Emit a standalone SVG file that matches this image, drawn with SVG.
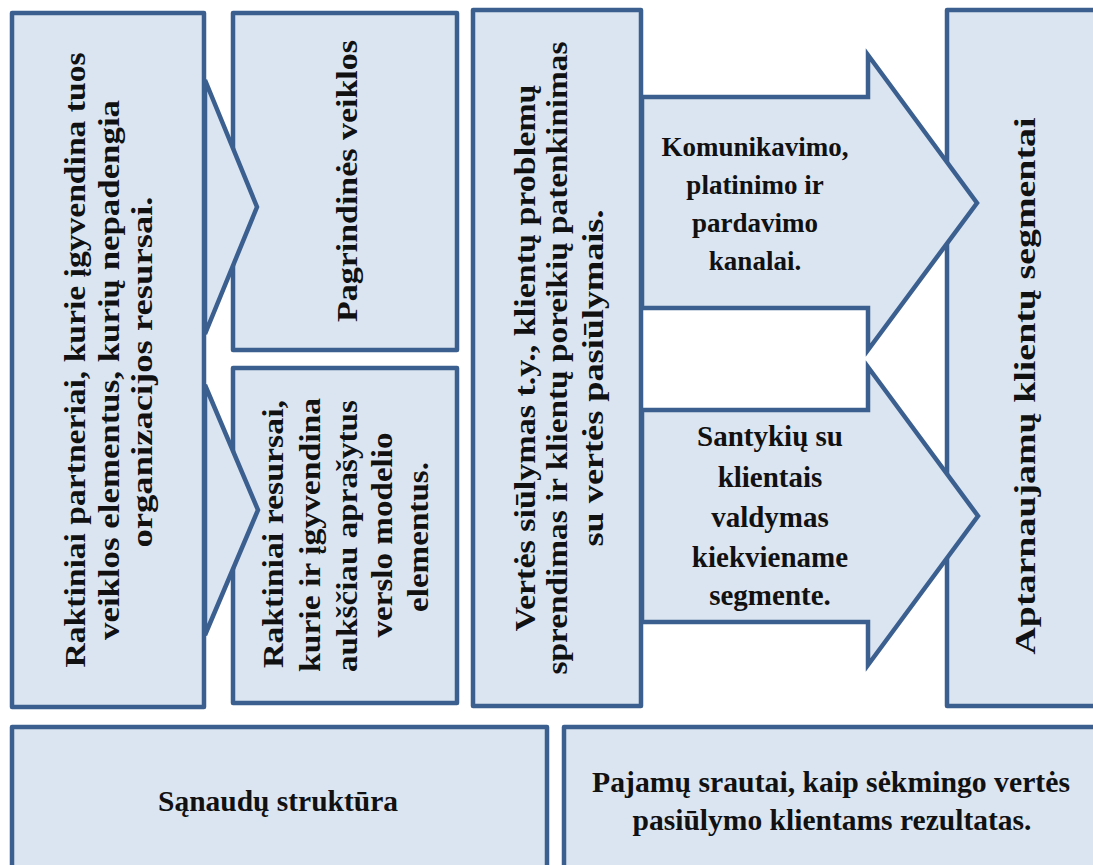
<svg xmlns="http://www.w3.org/2000/svg" width="1093" height="865" viewBox="0 0 1093 865">
  <style>
    .box { fill: #dbe5f1; stroke: #3b6090; stroke-width: 4.5; stroke-linejoin: round; }
    .shape { fill: #dbe5f1; stroke: #3b6090; stroke-width: 4.5; stroke-linejoin: miter; }
    text { font-family: "Liberation Serif", "Times New Roman", serif; font-weight: bold; fill: #111; }
    .v { font-size: 29px; text-anchor: middle; }
    .h { font-size: 27px; text-anchor: middle; }
    .h2 { font-size: 29px; text-anchor: middle; }
    .b { font-size: 30px; text-anchor: middle; }
  </style>

  <rect width="1093" height="865" fill="#ffffff"/>

  <!-- Key partners -->
  <g id="partners">
    <rect class="box" x="12" y="13" width="192" height="694"/>
    <text class="v" transform="translate(85,360) rotate(-90)" textLength="615" lengthAdjust="spacingAndGlyphs">Raktiniai partneriai,  kurie įgyvendina tuos</text>
    <text class="v" transform="translate(119,370) rotate(-90)" textLength="540" lengthAdjust="spacingAndGlyphs">veiklos elementus, kurių nepadengia</text>
    <text class="v" transform="translate(152,372) rotate(-90)" textLength="351" lengthAdjust="spacingAndGlyphs">organizacijos  resursai.</text>
  </g>

  <!-- Key activities -->
  <g id="activities">
    <rect class="box" x="233" y="13" width="224" height="337"/>
    <text class="v" transform="translate(357,181) rotate(-90)" textLength="282" lengthAdjust="spacingAndGlyphs">Pagrindinės veiklos</text>
  </g>

  <!-- Key resources -->
  <g id="resources">
    <rect class="box" x="233" y="368" width="224" height="335"/>
    <text class="v" transform="translate(283,534) rotate(-90)" textLength="268" lengthAdjust="spacingAndGlyphs">Raktiniai resursai,</text>
    <text class="v" transform="translate(320,535) rotate(-90)" textLength="274" lengthAdjust="spacingAndGlyphs">kurie ir įgyvendina</text>
    <text class="v" transform="translate(357,536) rotate(-90)" textLength="272" lengthAdjust="spacingAndGlyphs">aukščiau aprašytus</text>
    <text class="v" transform="translate(392,535) rotate(-90)" textLength="205" lengthAdjust="spacingAndGlyphs">verslo modelio</text>
    <text class="v" transform="translate(428,537) rotate(-90)" textLength="150" lengthAdjust="spacingAndGlyphs">elementus.</text>
  </g>

  <!-- Value proposition -->
  <g id="value">
    <rect class="box" x="473" y="10" width="168" height="696"/>
    <text class="v" transform="translate(535,358) rotate(-90)" textLength="547" lengthAdjust="spacingAndGlyphs">Vertės siūlymas t.y.,  klientų problemų</text>
    <text class="v" transform="translate(567,358) rotate(-90)" textLength="633" lengthAdjust="spacingAndGlyphs">sprendimas ir klientų poreikių patenkinimas</text>
    <text class="v" transform="translate(603,378) rotate(-90)" textLength="337" lengthAdjust="spacingAndGlyphs">su vertės pasiūlymais.</text>
  </g>

  <!-- Customer segments -->
  <g id="segments">
    <rect class="box" x="947" y="10" width="160" height="696"/>
    <text class="v" transform="translate(1035,386) rotate(-90)" textLength="537" lengthAdjust="spacingAndGlyphs">Aptarnaujamų  klientų segmentai</text>
  </g>

  <!-- Flow shapes: chevrons and block arrows -->
  <g id="connectors">
    <polygon class="shape" points="205,80 257,207 205,334"/>
    <polygon class="shape" points="205,385 258,510 205,635"/>
    <polygon class="shape" points="642,97 868,97 868,55 977,203 868,350 868,308 642,308"/>
    <polygon class="shape" points="642,410 868,410 868,367 978,516 868,665 868,622 642,622"/>
  </g>

  <!-- Channels -->
  <g id="channels">
    <text class="h" x="755" y="156">Komunikavimo,</text>
    <text class="h" x="755" y="194">platinimo ir</text>
    <text class="h" x="755" y="232">pardavimo</text>
    <text class="h" x="755" y="270">kanalai.</text>
  </g>

  <!-- Customer relationships -->
  <g id="relationships">
    <text class="h2" x="770" y="446">Santykių su</text>
    <text class="h2" x="770" y="487">klientais</text>
    <text class="h2" x="770" y="527">valdymas</text>
    <text class="h2" x="770" y="567">kiekviename</text>
    <text class="h2" x="770" y="605">segmente.</text>
  </g>

  <!-- Cost structure -->
  <g id="costs">
    <rect class="box" x="12" y="727" width="535" height="160"/>
    <text class="b" x="278" y="811" textLength="240" lengthAdjust="spacingAndGlyphs">Sąnaudų struktūra</text>
  </g>

  <!-- Revenue streams -->
  <g id="revenue">
    <rect class="box" x="564" y="727" width="560" height="160"/>
    <text class="b" x="831" y="792" textLength="478" lengthAdjust="spacingAndGlyphs">Pajamų srautai, kaip sėkmingo vertės</text>
    <text class="b" x="832" y="830" textLength="399" lengthAdjust="spacingAndGlyphs">pasiūlymo klientams rezultatas.</text>
  </g>
</svg>
